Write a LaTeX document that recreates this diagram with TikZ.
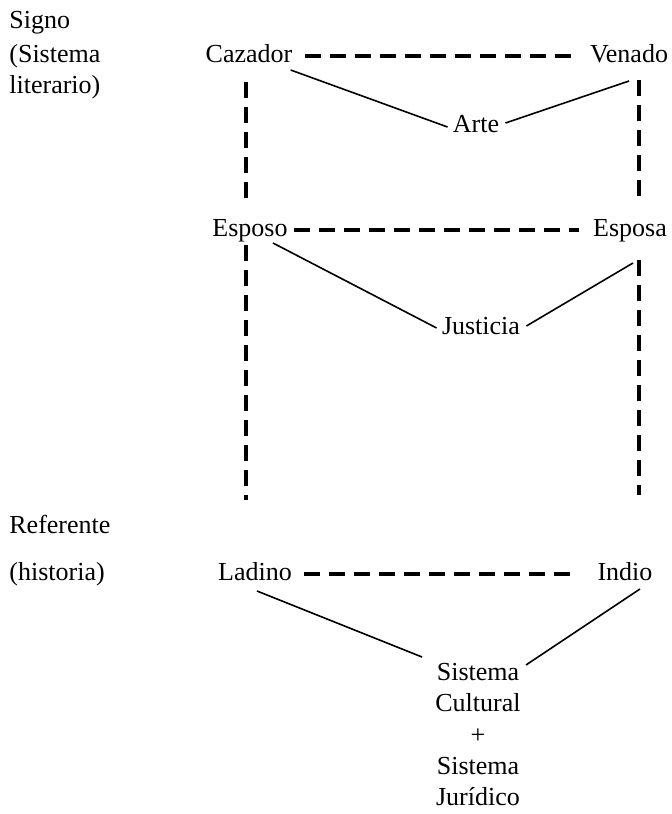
\documentclass[tikz,border=0pt]{standalone}
\usepackage{fontspec}
\setmainfont{Liberation Serif}
\begin{document}
\begin{tikzpicture}[x=0.5pt,y=-0.5pt,
  lbl/.style={inner sep=0pt,anchor=base,font=\fontsize{13}{15.6}\selectfont},
  side/.style={lbl,anchor=base west,align=left},
  dashline/.style={line width=1.6pt,dash pattern=on 8pt off 4.5pt},
  solidline/.style={line width=0.8pt}]
\useasboundingbox (0,0) rectangle (671,814);
% side labels
\node[side] (signo) at (9,28) {Signo};
\node[side] (sist) at (9,62) {(Sistema};
\node[side] (lit) at (9,93) {literario)};
\node[side] (ref) at (9,533) {Referente};
\node[side] (hist) at (9,580) {(historia)};
% main nodes
\node[lbl] (caz) at (249,62) {Cazador};
\node[lbl] (ven) at (629,62) {Venado};
\node[lbl] (arte) at (476,132) {Arte};
\node[lbl] (espo) at (250,236) {Esposo};
\node[lbl] (espa) at (630,236) {Esposa};
\node[lbl] (just) at (481,334) {Justicia};
\node[lbl] (lad) at (255,580) {Ladino};
\node[lbl] (ind) at (625,580) {Indio};
\node[lbl,align=center,anchor=north] (sis) at (478,663) {Sistema\\Cultural\\+\\Sistema\\Jurídico};
% dashed connections
\draw[dashline] ([shift={(12,-6)}]caz.base east) -- ([shift={(-12,-6)}]ven.base west);
\draw[dashline] ([shift={(6,-6)}]espo.base east) -- ([shift={(-14,-6)}]espa.base west);
\draw[dashline] ([shift={(12,-6)}]lad.base east) -- ([shift={(-21,-6)}]ind.base west);
\draw[dashline] ([shift={(-3,20)}]caz.base) -- ([shift={(-4,-33)}]espo.base);
\draw[dashline] ([shift={(-4,9)}]espo.base) -- ([shift={(-9,-80)}]lad.base);
\draw[dashline] ([shift={(10,18)}]ven.base) -- ([shift={(9,-36)}]espa.base);
\draw[dashline] ([shift={(9,24)}]espa.base) -- ([shift={(14,-85)}]ind.base);
% solid connections
\draw[solidline] ([shift={(-2,8)}]caz.base east) -- ([shift={(-5,-5)}]arte.base west);
\draw[solidline] ([shift={(0,19)}]ven.base) -- ([shift={(6,-9)}]arte.base east);
\draw[solidline] ([shift={(-15,7)}]espo.base east) -- ([shift={(-5,-6)}]just.base west);
\draw[solidline] ([shift={(3,27)}]espa.base) -- ([shift={(6,-8)}]just.base east);
\draw[solidline] ([shift={(2,11)}]lad.base) -- ([shift={(-13,-6)}]sis.north west);
\draw[solidline] ([shift={(15,9)}]ind.base) -- ([shift={(5,2)}]sis.north east);
\end{tikzpicture}
\end{document}
